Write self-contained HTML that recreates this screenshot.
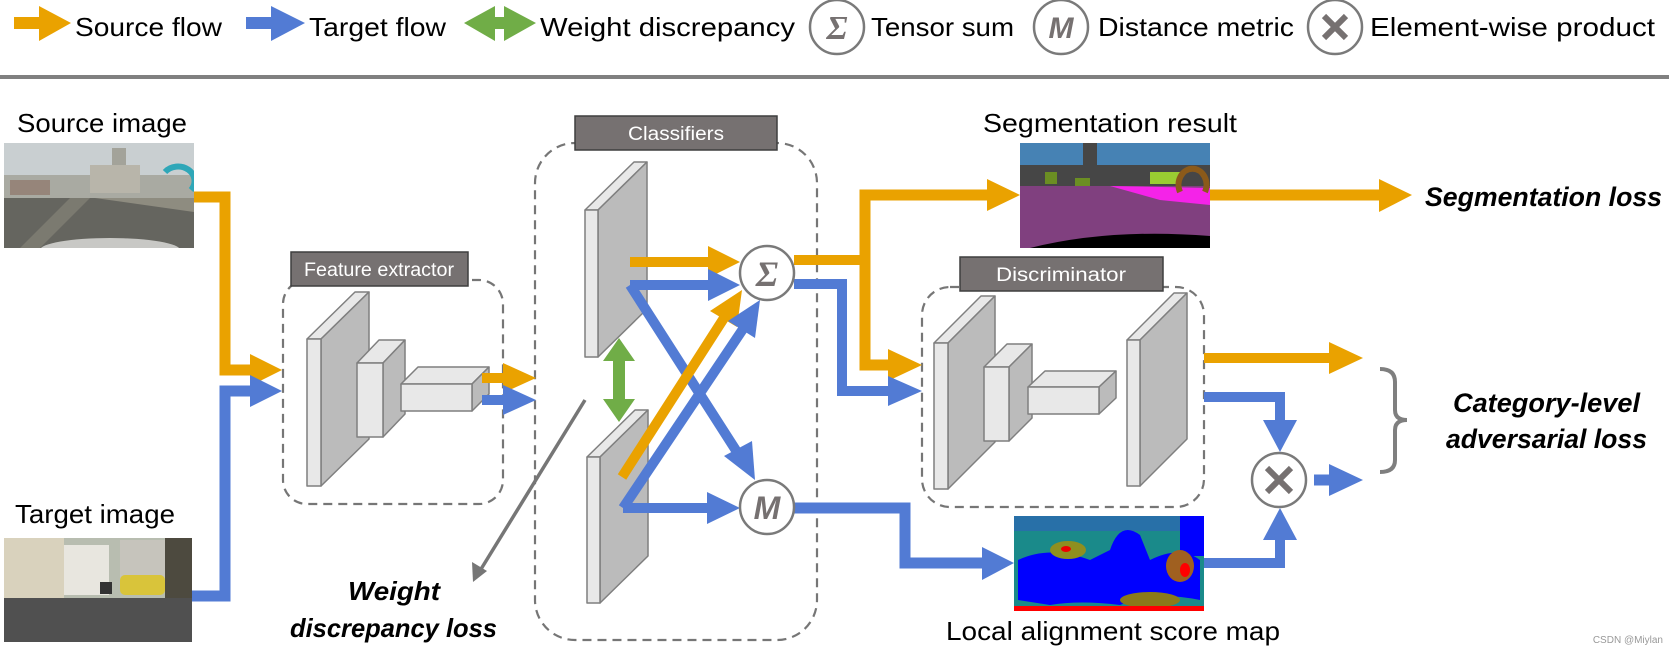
<!DOCTYPE html>
<html><head><meta charset="utf-8"><style>
html,body{margin:0;padding:0;background:#fff;}
svg{display:block;}
text{font-family:"Liberation Sans",sans-serif;}
</style></head><body>
<svg width="1669" height="649" viewBox="0 0 1669 649" xmlns="http://www.w3.org/2000/svg">
<defs>
<clipPath id="cs"><rect x="4" y="143" width="190" height="105"/></clipPath>
<clipPath id="ct"><rect x="4" y="538" width="188" height="104"/></clipPath>
<clipPath id="cg"><rect x="1020" y="143" width="190" height="105"/></clipPath>
<clipPath id="cm"><rect x="1014" y="516" width="190" height="95"/></clipPath>
</defs>

<!-- LEGEND -->
<g>
<rect x="14" y="17" width="26" height="12" fill="#EAA200"/>
<polygon points="39,6 71,23 39,41" fill="#EAA200"/>
<text x="75" y="36" font-size="26" textLength="147" lengthAdjust="spacingAndGlyphs">Source flow</text>
<rect x="246" y="17" width="26" height="12" fill="#527BD4"/>
<polygon points="271,6 305,23 271,41" fill="#527BD4"/>
<text x="309" y="36" font-size="26" textLength="137" lengthAdjust="spacingAndGlyphs">Target flow</text>
<polygon points="464,23 495,6 495,17 504,17 504,6 536,23 504,41 504,29 495,29 495,41" fill="#70AD47"/>
<text x="540" y="36" font-size="26" textLength="255" lengthAdjust="spacingAndGlyphs">Weight discrepancy</text>
<circle cx="837" cy="27" r="27" fill="#fff" stroke="#7a7a7a" stroke-width="2.5"/>
<text x="837" y="39" font-size="34" text-anchor="middle" font-style="italic" font-weight="bold" fill="#767171" style="font-family:'Liberation Serif',serif">Σ</text>
<text x="871" y="36" font-size="26" textLength="143" lengthAdjust="spacingAndGlyphs">Tensor sum</text>
<circle cx="1061" cy="27" r="27" fill="#fff" stroke="#7a7a7a" stroke-width="2.5"/>
<text x="1061" y="38" font-size="30" text-anchor="middle" font-style="italic" font-weight="bold" fill="#767171">M</text>
<text x="1098" y="36" font-size="26" textLength="196" lengthAdjust="spacingAndGlyphs">Distance metric</text>
<circle cx="1335" cy="27" r="27" fill="#fff" stroke="#7a7a7a" stroke-width="2.5"/>
<path d="M1324,16 L1346,38 M1346,16 L1324,38" stroke="#767171" stroke-width="6"/>
<text x="1370" y="36" font-size="26" textLength="285" lengthAdjust="spacingAndGlyphs">Element-wise product</text>
<rect x="0" y="75" width="1669" height="4" fill="#808080"/>
</g>

<!-- LABELS -->
<text x="17" y="132" font-size="26" textLength="170" lengthAdjust="spacingAndGlyphs">Source image</text>
<text x="15" y="523" font-size="26" textLength="160" lengthAdjust="spacingAndGlyphs">Target image</text>
<text x="983" y="132" font-size="26" textLength="254" lengthAdjust="spacingAndGlyphs">Segmentation result</text>
<text x="946" y="640" font-size="26" textLength="334" lengthAdjust="spacingAndGlyphs">Local alignment score map</text>
<text x="1425" y="206" font-size="27" font-weight="bold" font-style="italic" textLength="237" lengthAdjust="spacingAndGlyphs">Segmentation loss</text>
<text x="1453" y="412" font-size="27" font-weight="bold" font-style="italic" textLength="187" lengthAdjust="spacingAndGlyphs">Category-level</text>
<text x="1446" y="448" font-size="27" font-weight="bold" font-style="italic" textLength="201" lengthAdjust="spacingAndGlyphs">adversarial loss</text>
<text x="348" y="600" font-size="26" font-weight="bold" font-style="italic" textLength="92" lengthAdjust="spacingAndGlyphs">Weight</text>
<text x="290" y="637" font-size="26" font-weight="bold" font-style="italic" textLength="207" lengthAdjust="spacingAndGlyphs">discrepancy loss</text>

<!-- SOURCE IMAGE -->
<g clip-path="url(#cs)">
<rect x="4" y="143" width="190" height="105" fill="#c9cfd1"/>
<rect x="4" y="175" width="190" height="25" fill="#a9aaa2"/>
<rect x="112" y="148" width="14" height="45" fill="#a3a39a"/>
<rect x="90" y="165" width="50" height="28" fill="#b8b5aa"/>
<rect x="10" y="180" width="40" height="15" fill="#96857a"/>
<polygon points="4,198 194,198 194,248 4,248" fill="#65655f"/>
<polygon points="70,198 90,198 40,248 20,248" fill="#7b7a70"/>
<polygon points="95,198 194,212 194,198" fill="#8e8c80"/>
<path d="M165,172 a16,14 0 1,1 26,18" stroke="#2fa7b8" stroke-width="6" fill="none"/>
<ellipse cx="110" cy="250" rx="70" ry="12" fill="#c8c8c5"/>
</g>

<!-- TARGET IMAGE -->
<g clip-path="url(#ct)">
<rect x="4" y="538" width="188" height="104" fill="#b8bdb0"/>
<rect x="4" y="538" width="60" height="60" fill="#d9d2bd"/>
<rect x="64" y="545" width="45" height="50" fill="#e8e6df"/>
<rect x="120" y="540" width="45" height="45" fill="#c6c4bc"/>
<rect x="165" y="538" width="27" height="70" fill="#4d4a3f"/>
<rect x="4" y="598" width="188" height="44" fill="#505050"/>
<rect x="120" y="575" width="45" height="20" rx="5" fill="#d9c43a"/>
<rect x="100" y="582" width="12" height="12" fill="#333"/>
</g>

<!-- SEG IMAGE -->
<g clip-path="url(#cg)">
<rect x="1020" y="143" width="190" height="105" fill="#4682b4"/>
<rect x="1020" y="165" width="190" height="25" fill="#464646"/>
<rect x="1083" y="143" width="14" height="30" fill="#464646"/>
<rect x="1045" y="172" width="12" height="12" fill="#6b8e23"/>
<rect x="1075" y="178" width="15" height="10" fill="#6b8e23"/>
<rect x="1150" y="172" width="30" height="12" fill="#9acd32"/>
<rect x="1020" y="186" width="190" height="62" fill="#80407f"/>
<polygon points="1110,186 1210,188 1210,205 1160,200" fill="#f423e8"/>
<path d="M1180,192 a14,16 0 1,1 25,0" stroke="#8b5a1a" stroke-width="6" fill="none"/>
<path d="M1030,248 Q1110,228 1210,236 L1210,248 Z" fill="#000"/>
</g>

<!-- SCORE MAP -->
<g clip-path="url(#cm)">
<rect x="1014" y="516" width="190" height="95" fill="#1a8a8a"/>
<rect x="1014" y="516" width="190" height="15" fill="#2870a8"/>
<path d="M1018,560 Q1050,545 1090,560 L1110,550 Q1120,520 1140,535 L1150,560 Q1180,545 1200,560 L1200,600 Q1150,590 1120,605 Q1080,600 1050,605 L1018,600 Z" fill="#0000ff"/>
<rect x="1180" y="516" width="24" height="40" fill="#0000ff"/>
<ellipse cx="1068" cy="550" rx="18" ry="9" fill="#8f8f20"/>
<ellipse cx="1066" cy="549" rx="5" ry="3" fill="#e00"/>
<ellipse cx="1180" cy="566" rx="14" ry="16" fill="#a06020"/>
<ellipse cx="1185" cy="570" rx="5" ry="7" fill="#f00"/>
<ellipse cx="1150" cy="600" rx="30" ry="8" fill="#8a7a1a"/>
<rect x="1014" y="606" width="190" height="5" fill="#ff0000"/>
</g>

<!-- DASHED BOXES -->
<g fill="none" stroke="#767676" stroke-width="2.2" stroke-dasharray="9,6">
<rect x="283" y="280" width="220" height="224" rx="24"/>
<rect x="535" y="143" width="282" height="497" rx="40"/>
<rect x="922" y="287" width="282" height="220" rx="28"/>
</g>
<!-- TITLE BOXES -->
<g>
<rect x="291" y="252" width="177" height="34" fill="#767171" stroke="#3f3f3f" stroke-width="1.5"/>
<text x="379" y="276" font-size="19" fill="#fff" text-anchor="middle" textLength="150" lengthAdjust="spacingAndGlyphs">Feature extractor</text>
<rect x="575" y="116" width="202" height="34" fill="#767171" stroke="#3f3f3f" stroke-width="1.5"/>
<text x="676" y="140" font-size="19" fill="#fff" text-anchor="middle" textLength="96" lengthAdjust="spacingAndGlyphs">Classifiers</text>
<rect x="960" y="257" width="203" height="34" fill="#767171" stroke="#3f3f3f" stroke-width="1.5"/>
<text x="1061" y="281" font-size="19" fill="#fff" text-anchor="middle" textLength="130" lengthAdjust="spacingAndGlyphs">Discriminator</text>
</g>

<!-- SLABS -->
<g stroke="#7f7f7f" stroke-width="1.5" stroke-linejoin="round">
<!-- FE slab1 307-321,339-486 d48,-47 -->
<polygon points="307,339 355,292 369,292 321,339" fill="#e8e8e8"/>
<polygon points="321,339 369,292 369,439 321,486" fill="#bbbbbb"/>
<rect x="307" y="339" width="14" height="147" fill="#e8e8e8"/>
<!-- FE slab2 357-383,363-437 d22,-23 -->
<polygon points="357,363 379,340 405,340 383,363" fill="#e8e8e8"/>
<polygon points="383,363 405,340 405,414 383,437" fill="#bbbbbb"/>
<rect x="357" y="363" width="26" height="74" fill="#e8e8e8"/>
<!-- FE slab3 401-472,384-411 d17,-17 -->
<polygon points="401,384 418,367 489,367 472,384" fill="#e8e8e8"/>
<polygon points="472,384 489,367 489,394 472,411" fill="#bbbbbb"/>
<rect x="401" y="384" width="71" height="27" fill="#e8e8e8"/>
<!-- CLS upper 585-598,210-357 d49,-48 -->
<polygon points="585,210 634,162 647,162 598,210" fill="#e8e8e8"/>
<polygon points="598,210 647,162 647,309 598,357" fill="#bbbbbb"/>
<rect x="585" y="210" width="13" height="147" fill="#e8e8e8"/>
<!-- CLS lower 587-600,457-603 d48,-47 -->
<polygon points="587,457 635,410 648,410 600,457" fill="#e8e8e8"/>
<polygon points="600,457 648,410 648,556 600,603" fill="#bbbbbb"/>
<rect x="587" y="457" width="13" height="146" fill="#e8e8e8"/>
<!-- D slab1 934-948,343-489 d47,-47 -->
<polygon points="934,343 981,296 995,296 948,343" fill="#e8e8e8"/>
<polygon points="948,343 995,296 995,442 948,489" fill="#bbbbbb"/>
<rect x="934" y="343" width="14" height="146" fill="#e8e8e8"/>
<!-- D slab2 984-1009,367-441 d23,-23 -->
<polygon points="984,367 1007,344 1032,344 1009,367" fill="#e8e8e8"/>
<polygon points="1009,367 1032,344 1032,418 1009,441" fill="#bbbbbb"/>
<rect x="984" y="367" width="25" height="74" fill="#e8e8e8"/>
<!-- D slab3 1028-1099,387-414 d17,-16 -->
<polygon points="1028,387 1045,371 1116,371 1099,387" fill="#e8e8e8"/>
<polygon points="1099,387 1116,371 1116,398 1099,414" fill="#bbbbbb"/>
<rect x="1028" y="387" width="71" height="27" fill="#e8e8e8"/>
<!-- D slab4 1127-1140,340-486 d47,-47 -->
<polygon points="1127,340 1174,293 1187,293 1140,340" fill="#e8e8e8"/>
<polygon points="1140,340 1187,293 1187,439 1140,486" fill="#bbbbbb"/>
<rect x="1127" y="340" width="13" height="146" fill="#e8e8e8"/>
</g>

<!-- ARROWS -->
<g fill="none" stroke-width="11" stroke-linejoin="miter">
<polyline points="194,197 225,197 225,370 252,370" stroke="#EAA200"/>
<polyline points="192,596 225,596 225,391 252,391" stroke="#527BD4"/>
<line x1="482" y1="378" x2="505" y2="378" stroke="#EAA200" stroke-width="10"/>
<line x1="482" y1="400" x2="505" y2="400" stroke="#527BD4" stroke-width="10"/>
<line x1="630" y1="262" x2="710" y2="262" stroke="#EAA200" stroke-width="10"/>
<line x1="630" y1="285" x2="710" y2="285" stroke="#527BD4" stroke-width="10"/>
<line x1="630" y1="285" x2="737" y2="452" stroke="#527BD4" stroke-width="10"/>
<line x1="622" y1="477" x2="724" y2="318" stroke="#EAA200" stroke-width="10"/>
<line x1="623" y1="508" x2="743" y2="329" stroke="#527BD4" stroke-width="10"/>
<line x1="623" y1="508" x2="709" y2="508" stroke="#527BD4" stroke-width="10"/>
<polyline points="794,260 865,260" stroke="#EAA200" stroke-width="10"/>
<polyline points="989,195 865,195 865,365 890,365" stroke="#EAA200"/>
<polyline points="794,284 842,284 842,391 890,391" stroke="#527BD4" stroke-width="10"/>
<line x1="1210" y1="195" x2="1381" y2="195" stroke="#EAA200"/>
<line x1="1204" y1="358" x2="1331" y2="358" stroke="#EAA200" stroke-width="10"/>
<polyline points="1204,397 1280,397 1280,422" stroke="#527BD4" stroke-width="10"/>
<polyline points="794,508 905,508 905,563 984,563" stroke="#527BD4"/>
<polyline points="1204,563 1280,563 1280,538" stroke="#527BD4" stroke-width="10"/>
<line x1="1314" y1="480" x2="1331" y2="480" stroke="#527BD4"/>
</g>
<g>
<polygon points="250,354 282,370 250,386" fill="#EAA200"/>
<polygon points="250,375 282,391 250,407" fill="#527BD4"/>
<polygon points="503,363 536,378 503,393" fill="#EAA200"/>
<polygon points="503,385 536,400 503,415" fill="#527BD4"/>
<polygon points="708,246 740,262 708,278" fill="#EAA200"/>
<polygon points="708,269 740,285 708,301" fill="#527BD4"/>
<!-- diag blue to M tip 755,480 -->
<polygon points="724,456 755,480 752,441" fill="#527BD4"/>
<!-- orange to sigma tip 742,290 -->
<polygon points="710,311 742,290 737,327" fill="#EAA200"/>
<!-- blue to sigma tip 760,300 -->
<polygon points="728,321 760,300 755,338" fill="#527BD4"/>
<polygon points="707,492 740,508 707,524" fill="#527BD4"/>
<polygon points="987,179 1020,195 987,211" fill="#EAA200"/>
<polygon points="888,349 922,365 888,381" fill="#EAA200"/>
<polygon points="888,376 922,391 888,406" fill="#527BD4"/>
<polygon points="1379,179 1412,195 1379,212" fill="#EAA200"/>
<polygon points="1329,342 1363,358 1329,374" fill="#EAA200"/>
<polygon points="1263,420 1280,452 1297,420" fill="#527BD4"/>
<polygon points="982,547 1014,563 982,580" fill="#527BD4"/>
<polygon points="1263,540 1280,508 1297,540" fill="#527BD4"/>
<polygon points="1329,464 1363,480 1329,496" fill="#527BD4"/>
<!-- green double arrow -->
<polygon points="619,338 635,361 625,361 625,399 635,399 619,422 603,399 613,399 613,361 603,361" fill="#70AD47"/>
<!-- weight discrepancy arrow -->
<line x1="585" y1="400" x2="478" y2="574" stroke="#767676" stroke-width="3.5"/>
<polygon points="473,582 472,562 487,571" fill="#767676"/>
</g>

<!-- OPERATOR CIRCLES -->
<circle cx="767" cy="273" r="27" fill="#fff" stroke="#7a7a7a" stroke-width="2.5"/>
<text x="767" y="286" font-size="36" text-anchor="middle" font-style="italic" font-weight="bold" fill="#767171" style="font-family:'Liberation Serif',serif">Σ</text>
<circle cx="767" cy="507" r="27" fill="#fff" stroke="#7a7a7a" stroke-width="2.5"/>
<text x="767" y="519" font-size="32" text-anchor="middle" font-style="italic" font-weight="bold" fill="#767171">M</text>
<circle cx="1279" cy="480" r="27" fill="#fff" stroke="#7a7a7a" stroke-width="2.5"/>
<path d="M1267,468 L1291,492 M1291,468 L1267,492" stroke="#767171" stroke-width="6"/>

<!-- BRACE -->
<path d="M1380,369 Q1395,369 1395,382 L1395,410 Q1395,420 1407,420 Q1395,420 1395,430 L1395,460 Q1395,472 1380,472" fill="none" stroke="#7f7f7f" stroke-width="4"/>

<text x="1663" y="643" font-size="10" fill="#999" text-anchor="end">CSDN @Miylan</text>
</svg>
</body></html>
